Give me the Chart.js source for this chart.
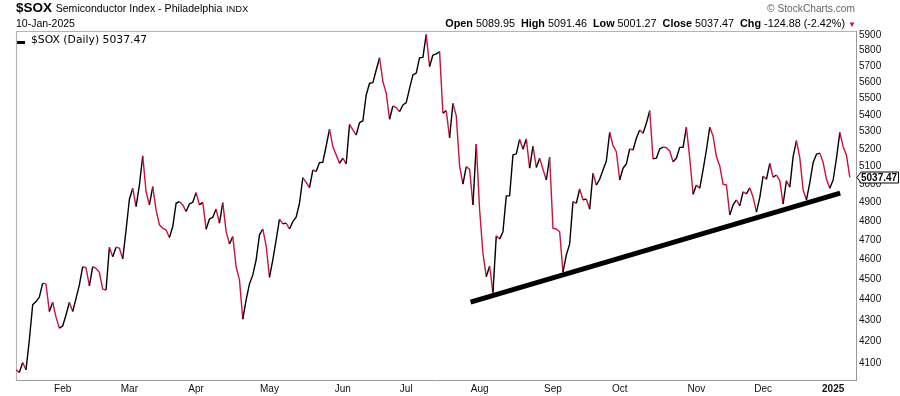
<!DOCTYPE html>
<html><head><meta charset="utf-8">
<script src="https://cdn.jsdelivr.net/npm/chart.js@4.4.1/dist/chart.umd.min.js"></script>
<style>
html,body{margin:0;padding:0;background:#fff;}
#wrap{position:relative;width:900px;height:396px;overflow:hidden;}
#c{position:absolute;left:0;top:0;}
.t{position:absolute;white-space:nowrap;color:#000;font-family:'Liberation Sans',Arial,sans-serif;line-height:1;}
</style></head><body>
<div id="wrap">
<canvas id="c" width="900" height="396"></canvas>
<div class="t" style="left:16px;top:1px;font-size:13px;line-height:13px;"><b style="font-size:13.5px;">$SOX</b> <span style="font-size:10.6px;">Semiconductor Index - Philadelphia</span> <span style="font-size:9px;letter-spacing:0.3px;">INDX</span></div>
<div class="t" style="left:16px;top:17.5px;font-size:10.5px;">10-Jan-2025</div>
<div class="t" style="right:45px;top:3.5px;font-size:10.2px;color:#666;">© StockCharts.com</div>
<div class="t" id="hdr" style="right:44px;top:17.5px;font-size:10.8px;"><b>Open</b> 5089.95&nbsp; <b>High</b> 5091.46&nbsp; <b>Low</b> 5001.27&nbsp; <b>Close</b> 5037.47&nbsp; <b>Chg</b> -124.88 (-2.42%) <span style="color:#c8102e;font-size:8px;">▼</span></div>
<div style="position:absolute;left:17px;top:41px;width:8px;height:3px;background:#000;"></div>
<div class="t" style="left:31px;top:35px;font-family:'DejaVu Sans',sans-serif;font-size:10.8px;">$SOX (Daily) 5037.47</div>
</div>
<script>
// ---- data ----
const seriesName = '$SOX (Daily)';
// daily closes, 11-Jan-2024 .. 10-Jan-2025 (trading days)
const closes = [
4069,4057,4102,4069,4206,4373,4389,4411,4480,4475,
4341,4386,4314,4261,4272,4325,4386,4341,4405,4471,
4562,4557,4466,4562,4554,4533,4450,4446,4662,4613,
4662,4657,4602,4752,4917,4977,4877,4995,5159,4958,
4886,4986,4859,4779,4761,4752,4712,4770,4895,4904,
4886,4850,4891,4900,4953,4886,4900,4756,4810,4820,
4864,4788,4898,4743,4679,4717,4562,4496,4304,4397,
4476,4521,4597,4726,4757,4669,4509,4597,4700,4810,
4784,4788,4757,4796,4820,4895,5036,5010,4980,5079,
5070,5121,5123,5216,5314,5212,5165,5117,5146,5114,
5343,5310,5280,5353,5363,5520,5592,5596,5675,5753,
5603,5531,5373,5453,5443,5419,5459,5473,5561,5644,
5655,5753,5755,5904,5696,5770,5777,5792,5409,5425,
5264,5469,5393,5102,5000,5098,5083,4886,5228,4860,
4630,4512,4566,4433,4721,4704,4743,4935,4936,5165,
5171,5255,5197,5257,5089,5216,5093,5146,5083,5023,
5152,4761,4757,4743,4535,4622,4679,4904,4895,4973,
4913,4918,4863,5061,4995,5027,5079,5130,5296,5218,
5183,5023,5089,5114,5199,5193,5261,5310,5290,5349,
5425,5142,5146,5199,5210,5206,5187,5126,5146,5208,
5208,5326,5146,4944,4995,4977,5079,5193,5326,5274,
5155,5102,4999,4995,4832,4886,4913,4881,4958,4946,
4980,4928,4847,4926,5045,5027,5117,5038,5051,5019,
4891,5019,4983,5155,5247,5149,4968,4913,5008,5121,
5169,5175,5121,5027,4977,5023,5146,5296,5212,5162.35,
5037.47
];
// month tick positions (trading-day index) and labels
const monthTickIdx = [14,34,54,76,98,117,139,161,181,204,224,245];
const monthLabels  = ['Feb','Mar','Apr','May','Jun','Jul','Aug','Sep','Oct','Nov','Dec','2025'];
// y-axis tick values
const yTicks = [4100,4200,4300,4400,4500,4600,4700,4800,4900,5000,5100,5200,5300,5400,5500,5600,5700,5800,5900];
// hand-drawn support trend line (index, value)
const trendIdx = [136.3, 247.1];
const trendVal = [4386, 4950];

// ---- styling ----
const UP = '#000000', DOWN = '#cf0f3c';
const lastVal = closes[closes.length-1];

const framePlugin = {
  id:'frame',
  beforeDatasetsDraw(ch){
    const a = ch.chartArea, c = ch.ctx;
    c.save();
    c.strokeStyle = '#b4b4b4'; c.lineWidth = 1.2;
    c.beginPath();
    c.moveTo(a.left+0.5, a.bottom); c.lineTo(a.left+0.5, a.top+0.5); c.lineTo(a.right, a.top+0.5);
    c.stroke();
    c.restore();
  }
};
const lastLabel = {
  id:'lastLabel',
  afterDraw(ch){
    const y = Math.round(ch.scales.y.getPixelForValue(lastVal)) + 0.5;
    const x0 = ch.chartArea.right + 0.5, c = ch.ctx, h = 5.5;
    c.save();
    c.beginPath();
    c.moveTo(x0, y); c.lineTo(x0+4, y-h); c.lineTo(898.5, y-h); c.lineTo(898.5, y+h); c.lineTo(x0+4, y+h); c.closePath();
    c.fillStyle = '#fff'; c.fill();
    c.strokeStyle = '#000'; c.lineWidth = 1; c.stroke();
    c.fillStyle = '#000'; c.font = "bold 10px 'Liberation Sans', Arial";
    c.textBaseline = 'middle'; c.textAlign = 'left';
    c.fillText(lastVal.toFixed(2), x0+4, y+0.5);
    c.restore();
  }
};

new Chart(document.getElementById('c'), {
  type:'line',
  data:{ datasets:[
    { label: seriesName, data: closes.map((v,i)=>({x:i,y:v})), borderColor:UP, borderWidth:1.4,
      pointRadius:0, tension:0, borderJoinStyle:'round',
      segment:{ borderColor: s => s.p1.parsed.y < s.p0.parsed.y ? DOWN : UP } },
    { label:'trend', data: trendIdx.map((x,k)=>({x, y:trendVal[k]})), borderColor:'#000', borderWidth:5,
      pointRadius:0, borderCapStyle:'butt' }
  ]},
  options:{
    responsive:false, animation:false, devicePixelRatio:1,
    layout:{ padding:{ left:16, top:31, right:0, bottom:0 } },
    plugins:{ legend:{display:false}, tooltip:{enabled:false} },
    scales:{
      x:{ type:'linear', min:0, max:252,
        grid:{display:false, drawTicks:false},
        border:{display:true, color:'#9a9a9a', dash:[1,1]},
        afterBuildTicks: s => { s.ticks = monthTickIdx.map(v=>({value:v})); },
        afterFit: s => { s.height = 15.5; },
        ticks:{ autoSkip:false, maxRotation:0, padding:3, color:'#111',
          font: ctx => ({ family:"'Liberation Sans', Arial", size:10, weight: (ctx.index === monthLabels.length-1) ? 'bold' : 'normal' }),
          callback: (v,i) => monthLabels[i] }
      },
      y:{ type:'logarithmic', position:'right', min:4021, max:5926,
        grid:{display:false, drawTicks:false},
        border:{display:true, color:'#9a9a9a', dash:[1,1]},
        afterBuildTicks: s => { s.ticks = yTicks.map(v=>({value:v})); },
        afterFit: s => { s.width = 43.5; },
        ticks:{ autoSkip:false, padding:2.5, color:'#111',
          font:{ family:"'Liberation Sans', Arial", size:10 },
          callback: v => String(v) }
      }
    }
  },
  plugins:[framePlugin, lastLabel]
});
</script>
</body></html>
